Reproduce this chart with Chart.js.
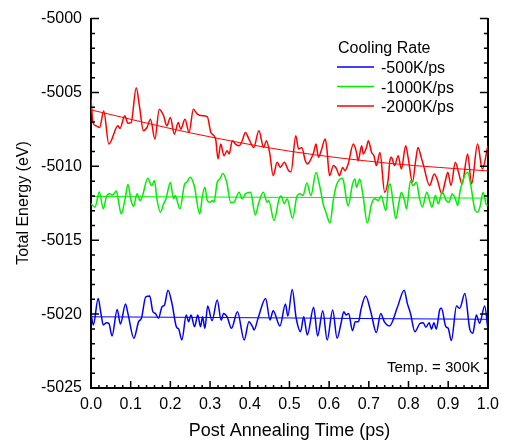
<!DOCTYPE html>
<html>
<head>
<meta charset="utf-8">
<script src="https://cdn.jsdelivr.net/npm/chart.js@4.4.1/dist/chart.umd.min.js"></script>
<style>
  body { margin: 0; background: #fff; }
  canvas { display: block; }
</style>
</head>
<body>
<canvas id="energyChart" width="506" height="442"></canvas>
<script>
// cooling rates (legend)
const rateLabels = ['-500K/ps', '-1000K/ps', '-2000K/ps'];
const rateColors = ['#0000ff', '#00ee00', '#ff0000'];

// -500K/ps
const time500 = [0.000, 0.006, 0.018, 0.025, 0.031, 0.039, 0.045, 0.053, 0.066, 0.074,
  0.087, 0.093, 0.108, 0.120, 0.127, 0.138, 0.148, 0.156, 0.162, 0.170,
  0.179, 0.185, 0.194, 0.204, 0.215, 0.221, 0.229, 0.240, 0.246, 0.252,
  0.261, 0.269, 0.276, 0.281, 0.287, 0.294, 0.305, 0.318, 0.328, 0.334,
  0.343, 0.354, 0.369, 0.386, 0.398, 0.407, 0.411, 0.421, 0.440, 0.451,
  0.459, 0.476, 0.490, 0.496, 0.507, 0.517, 0.528, 0.536, 0.545, 0.561,
  0.571, 0.584, 0.595, 0.609, 0.620, 0.630, 0.637, 0.643, 0.649, 0.659,
  0.666, 0.674, 0.680, 0.692, 0.705, 0.719, 0.730, 0.739, 0.752, 0.772,
  0.789, 0.797, 0.805, 0.816, 0.829, 0.837, 0.844, 0.852, 0.858, 0.864,
  0.870, 0.879, 0.883, 0.894, 0.900, 0.908, 0.921, 0.929, 0.942, 0.954,
  0.962, 0.971, 0.979, 0.992, 1.000];
const energy500 = [-5019.95, -5020.73, -5018.94, -5019.95, -5020.73, -5020.58, -5020.62, -5021.48, -5019.68, -5020.67,
  -5019.32, -5019.95, -5021.63, -5020.51, -5020.28, -5018.83, -5018.78, -5019.84, -5019.95, -5020.28,
  -5019.50, -5019.39, -5018.38, -5019.27, -5020.85, -5021.02, -5021.75, -5020.06, -5020.51, -5020.06,
  -5020.85, -5020.06, -5020.85, -5020.18, -5020.96, -5019.45, -5020.44, -5019.05, -5020.40, -5019.95,
  -5020.18, -5020.96, -5019.84, -5021.75, -5020.51, -5020.85, -5021.07, -5020.28, -5018.94, -5020.40,
  -5019.77, -5020.80, -5019.32, -5020.13, -5018.33, -5020.28, -5021.19, -5020.18, -5021.41, -5019.54,
  -5021.48, -5019.77, -5021.75, -5019.72, -5021.63, -5020.62, -5019.84, -5020.06, -5019.95, -5021.12,
  -5020.51, -5020.51, -5019.72, -5018.78, -5019.84, -5021.25, -5019.95, -5020.51, -5020.80, -5019.54,
  -5018.38, -5019.27, -5019.95, -5021.19, -5020.62, -5020.58, -5020.89, -5020.58, -5021.02, -5020.58,
  -5021.02, -5019.68, -5019.61, -5020.85, -5020.96, -5021.79, -5019.45, -5019.61, -5018.60, -5020.96,
  -5021.29, -5020.06, -5020.62, -5019.45, -5021.02];

// -1000K/ps
const time1000 = [0.000, 0.010, 0.021, 0.031, 0.039, 0.047, 0.055, 0.064, 0.069, 0.076,
  0.086, 0.093, 0.101, 0.107, 0.116, 0.124, 0.130, 0.143, 0.153, 0.160,
  0.166, 0.175, 0.183, 0.189, 0.200, 0.208, 0.212, 0.224, 0.236, 0.241,
  0.250, 0.260, 0.274, 0.281, 0.287, 0.293, 0.300, 0.306, 0.310, 0.318,
  0.325, 0.332, 0.342, 0.352, 0.360, 0.373, 0.381, 0.389, 0.402, 0.414,
  0.423, 0.434, 0.444, 0.448, 0.461, 0.474, 0.479, 0.487, 0.494, 0.508,
  0.519, 0.527, 0.534, 0.544, 0.554, 0.567, 0.576, 0.586, 0.592, 0.602,
  0.611, 0.619, 0.633, 0.637, 0.644, 0.648, 0.659, 0.665, 0.669, 0.677,
  0.686, 0.696, 0.707, 0.715, 0.724, 0.731, 0.743, 0.749, 0.754, 0.761,
  0.768, 0.776, 0.782, 0.790, 0.795, 0.805, 0.811, 0.820, 0.828, 0.835,
  0.846, 0.853, 0.859, 0.868, 0.875, 0.885, 0.895, 0.902, 0.910, 0.918,
  0.924, 0.930, 0.949, 0.957, 0.968, 0.974, 0.980, 0.988, 0.995, 1.000];
const energy1000 = [-5012.53, -5012.76, -5011.74, -5012.88, -5012.04, -5011.86, -5011.93, -5011.67, -5012.31, -5013.22,
  -5012.20, -5011.23, -5012.31, -5012.70, -5011.86, -5012.31, -5011.97, -5010.81, -5011.30, -5010.96,
  -5012.20, -5013.10, -5012.53, -5012.20, -5011.10, -5012.20, -5011.97, -5012.87, -5011.19, -5011.08,
  -5010.74, -5011.30, -5013.22, -5011.97, -5011.42, -5012.31, -5012.43, -5012.31, -5012.43, -5011.08,
  -5010.85, -5010.49, -5011.08, -5012.45, -5012.43, -5011.75, -5012.20, -5011.86, -5011.75, -5013.29,
  -5012.43, -5011.75, -5012.43, -5012.31, -5013.66, -5012.20, -5012.01, -5012.53, -5012.20, -5013.52,
  -5012.01, -5011.86, -5011.97, -5011.13, -5011.97, -5010.42, -5011.30, -5012.65, -5013.10, -5013.83,
  -5012.20, -5011.23, -5010.80, -5011.08, -5012.31, -5012.68, -5011.19, -5010.85, -5011.42, -5010.85,
  -5012.09, -5013.83, -5012.53, -5012.20, -5012.31, -5012.01, -5012.99, -5011.44, -5011.19, -5012.43,
  -5013.54, -5012.43, -5011.75, -5012.31, -5012.87, -5010.96, -5011.30, -5011.08, -5012.20, -5012.76,
  -5011.75, -5012.31, -5012.76, -5011.97, -5012.53, -5011.75, -5012.31, -5012.43, -5011.86, -5012.20,
  -5012.65, -5011.67, -5010.40, -5011.30, -5012.99, -5013.10, -5012.76, -5011.75, -5012.53, -5012.65];

// -2000K/ps
const time2000 = [0.000, 0.005, 0.013, 0.022, 0.032, 0.045, 0.068, 0.073, 0.085, 0.093,
  0.101, 0.114, 0.122, 0.132, 0.141, 0.150, 0.161, 0.172, 0.183, 0.191,
  0.200, 0.210, 0.220, 0.226, 0.237, 0.247, 0.258, 0.268, 0.281, 0.293,
  0.302, 0.314, 0.320, 0.327, 0.335, 0.343, 0.348, 0.356, 0.364, 0.373,
  0.381, 0.389, 0.398, 0.410, 0.423, 0.435, 0.442, 0.450, 0.459, 0.469,
  0.477, 0.487, 0.498, 0.504, 0.516, 0.523, 0.531, 0.540, 0.546, 0.552,
  0.561, 0.567, 0.573, 0.580, 0.590, 0.594, 0.601, 0.611, 0.619, 0.626,
  0.634, 0.640, 0.648, 0.661, 0.669, 0.673, 0.682, 0.686, 0.694, 0.699,
  0.707, 0.713, 0.719, 0.728, 0.740, 0.749, 0.753, 0.757, 0.765, 0.774,
  0.782, 0.793, 0.799, 0.810, 0.818, 0.824, 0.832, 0.838, 0.853, 0.865,
  0.872, 0.884, 0.892, 0.899, 0.907, 0.918, 0.926, 0.935, 0.949, 0.959,
  0.974, 0.986, 1.000];
const energy2000 = [-5005.42, -5007.04, -5007.26, -5007.37, -5006.25, -5008.49, -5007.26, -5007.44, -5006.58, -5007.08,
  -5007.04, -5004.68, -5005.91, -5007.59, -5007.37, -5006.81, -5008.15, -5006.13, -5006.58, -5007.26,
  -5006.70, -5007.82, -5007.04, -5007.48, -5006.81, -5007.71, -5006.13, -5006.47, -5006.58, -5006.63,
  -5007.71, -5008.15, -5009.50, -5008.49, -5009.28, -5008.94, -5009.16, -5008.27, -5008.49, -5008.61,
  -5008.27, -5007.71, -5008.15, -5008.72, -5007.59, -5008.72, -5008.27, -5009.06, -5010.63, -5009.73,
  -5010.07, -5009.73, -5010.29, -5010.36, -5007.93, -5008.83, -5008.72, -5009.62, -5009.84, -5009.62,
  -5009.06, -5008.49, -5009.39, -5008.94, -5008.15, -5008.72, -5010.63, -5009.95, -5010.18, -5010.63,
  -5010.07, -5010.29, -5009.84, -5008.49, -5009.06, -5009.62, -5008.61, -5009.16, -5008.72, -5008.27,
  -5009.06, -5009.28, -5009.95, -5009.06, -5011.75, -5010.85, -5009.62, -5009.39, -5009.95, -5009.28,
  -5010.18, -5008.61, -5009.39, -5011.08, -5009.62, -5008.72, -5009.39, -5009.95, -5011.30, -5010.51,
  -5010.85, -5011.86, -5011.08, -5010.40, -5011.30, -5009.73, -5010.40, -5011.19, -5009.16, -5011.19,
  -5008.49, -5010.18, -5008.61];

// fitted trend lines
const fitTime = [0, 0.25, 0.5, 0.75, 1.0];
const fit500 = [-5020.18, -5020.22, -5020.26, -5020.31, -5020.35];
const fit1000 = [-5012.04, -5012.07, -5012.10, -5012.12, -5012.15];
const fit2000 = [-5006.18, -5007.73, -5008.97, -5009.79, -5010.31];

// axes
const xTicks = ['0.0', '0.1', '0.2', '0.3', '0.4', '0.5', '0.6', '0.7', '0.8', '0.9', '1.0'];
const yMin = -5025, yMax = -5000;

function toPoints(ts, vs) {
  return ts.map((t, i) => ({ x: t, y: vs[i] }));
}

Chart.defaults.font.family = 'Arial, "Liberation Sans", sans-serif';
Chart.defaults.color = '#000';

function seriesSet(label, ts, vs, color) {
  return {
    label: label,
    data: toPoints(ts, vs),
    borderColor: color,
    borderWidth: 1.5,
    pointRadius: 0,
    cubicInterpolationMode: 'monotone',
    fill: false,
    order: 1
  };
}

function fitSet(ts, vs, color) {
  return {
    label: 'fit',
    data: toPoints(ts, vs),
    borderColor: color,
    borderWidth: 1,
    pointRadius: 0,
    cubicInterpolationMode: 'monotone',
    fill: false,
    order: 0
  };
}

// inward major/minor tick marks
const innerTicks = {
  id: 'innerTicks',
  afterDraw(chart) {
    const { ctx, chartArea: a, scales: { x, y } } = chart;
    ctx.save();
    ctx.strokeStyle = '#000';
    ctx.lineWidth = 1.5;
    ctx.beginPath();
    for (let v = yMin; v <= yMax; v++) {
      const py = y.getPixelForValue(v);
      const len = v % 5 === 0 ? 8 : 4;
      ctx.moveTo(a.left, py); ctx.lineTo(a.left + len, py);
      ctx.moveTo(a.right - len, py); ctx.lineTo(a.right, py);
    }
    for (let i = 0; i <= 50; i++) {
      const px = x.getPixelForValue(i * 0.02);
      const len = i % 5 === 0 ? 7 : 3;
      ctx.moveTo(px, a.bottom); ctx.lineTo(px, a.bottom - len);
    }
    ctx.stroke();
    ctx.restore();
  }
};

// legend box, y title and temperature note
const annotations = {
  id: 'annotations',
  afterDraw(chart) {
    const ctx = chart.ctx;
    ctx.save();
    ctx.fillStyle = '#000';
    ctx.font = '16px Arial, "Liberation Sans", sans-serif';
    ctx.textAlign = 'left';
    ctx.textBaseline = 'alphabetic';
    ctx.fillText('Cooling Rate', 338, 53);
    rateLabels.forEach((lab, i) => {
      const ly = 67 + i * 19.5;
      ctx.strokeStyle = rateColors[i];
      ctx.lineWidth = 1.5;
      ctx.beginPath();
      ctx.moveTo(337, ly);
      ctx.lineTo(374, ly);
      ctx.stroke();
      ctx.fillText(lab, 381, ly + 6);
    });

    ctx.font = '15px Arial, "Liberation Sans", sans-serif';
    ctx.textAlign = 'right';
    ctx.fillText('Temp. = 300K', 480, 372);

    ctx.font = '16px Arial, "Liberation Sans", sans-serif';
    ctx.translate(24, 203);
    ctx.rotate(-Math.PI / 2);
    ctx.textAlign = 'center';
    ctx.textBaseline = 'middle';
    ctx.fillText('Total Energy (eV)', 0, 0);
    ctx.restore();
  }
};

new Chart(document.getElementById('energyChart'), {
  type: 'line',
  data: {
    datasets: [
      seriesSet(rateLabels[0], time500, energy500, rateColors[0]),
      seriesSet(rateLabels[1], time1000, energy1000, rateColors[1]),
      seriesSet(rateLabels[2], time2000, energy2000, rateColors[2]),
      fitSet(fitTime, fit500, rateColors[0]),
      fitSet(fitTime, fit1000, rateColors[1]),
      fitSet(fitTime, fit2000, rateColors[2])
    ]
  },
  options: {
    responsive: false,
    animation: false,
    devicePixelRatio: 1,
    layout: { padding: { top: 17, left: 0, right: 0, bottom: 0 } },
    plugins: { legend: { display: false }, tooltip: { enabled: false } },
    scales: {
      x: {
        type: 'linear',
        min: 0,
        max: 1,
        grid: { display: false, drawTicks: false },
        border: { display: true, color: '#000', width: 2 },
        ticks: {
          stepSize: 0.1,
          autoSkip: false,
          maxRotation: 0,
          padding: 7,
          font: { size: 16 },
          callback: (v, i) => xTicks[i]
        },
        title: {
          display: true,
          text: 'Post Annealing Time (ps)',
          font: { size: 18 },
          padding: { top: 0, bottom: 0 }
        },
        afterFit: s => { s.height = 54; }
      },
      y: {
        type: 'linear',
        position: 'left',
        min: yMin,
        max: yMax,
        grid: { display: false, drawTicks: false },
        border: { display: true, color: '#000', width: 2 },
        ticks: {
          stepSize: 5,
          padding: 9,
          font: { size: 16 },
          callback: v => String(v)
        },
        afterFit: s => { s.width = 91; }
      },
      y2: {
        type: 'linear',
        position: 'right',
        min: yMin,
        max: yMax,
        grid: { display: false, drawTicks: false },
        border: { display: true, color: '#000', width: 2 },
        ticks: { display: false },
        afterFit: s => { s.width = 16; }
      }
    }
  },
  plugins: [innerTicks, annotations]
});
</script>
</body>
</html>
